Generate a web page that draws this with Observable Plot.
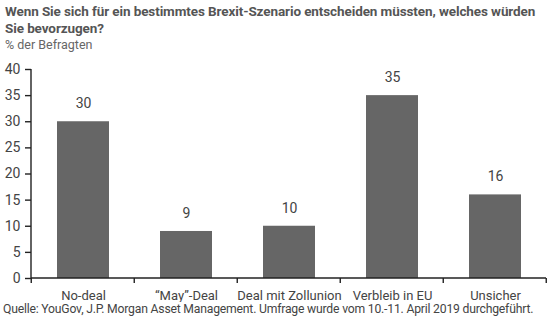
<!DOCTYPE html>
<html>
<head>
<meta charset="utf-8">
<script src="https://cdn.jsdelivr.net/npm/d3@7"></script>
<script src="https://cdn.jsdelivr.net/npm/@observablehq/plot@0.6"></script>
<style>
  html, body { margin: 0; padding: 0; background: #fff; }
  body { width: 560px; height: 321px; overflow: hidden; position: relative; font-family: Roboto, "Noto Sans", sans-serif; color: #4a4a4a; }
  #title { position: absolute; left: 5px; top: 3px; width: 552px; font-size: 13.5px; font-weight: bold; line-height: 17px; color: #555; letter-spacing: -0.1px; }
  #subtitle { position: absolute; left: 5px; top: 37px; font-size: 12.5px; color: #666; }
  #chart { position: absolute; left: 0; top: 52px; }
  #caption { position: absolute; left: 3px; top: 302px; font-size: 12.2px; color: #444; white-space: nowrap; letter-spacing: -0.2px; }
</style>
</head>
<body>
<div id="title">Wenn Sie sich für ein bestimmtes Brexit-Szenario entscheiden müssten, welches würden Sie bevorzugen?</div>
<div id="subtitle">% der Befragten</div>
<div id="chart"></div>
<div id="caption">Quelle: YouGov, J.P. Morgan Asset Management. Umfrage wurde vom 10.-11. April 2019 durchgeführt.</div>
<script>
const categories = ["No-deal", "\u201cMay\u201d-Deal", "Deal mit Zollunion", "Verbleib in EU", "Unsicher"];
const values = [30, 9, 10, 35, 16];
const yTicks = [0, 5, 10, 15, 20, 25, 30, 35, 40];

const data = categories.map((c, i) => ({category: c, value: values[i]}));

const axisLines = (index, scales, values_, dims, context) => {
  const ns = "http://www.w3.org/2000/svg";
  const g = document.createElementNS(ns, "g");
  g.setAttribute("stroke", "#222");
  g.setAttribute("stroke-width", "1.4");
  g.setAttribute("fill", "none");
  const line = (x1, y1, x2, y2) => {
    const l = document.createElementNS(ns, "line");
    l.setAttribute("x1", x1); l.setAttribute("y1", y1);
    l.setAttribute("x2", x2); l.setAttribute("y2", y2);
    g.appendChild(l);
  };
  const x = scales.x, y = scales.y;
  const y0 = y(0), yTop = y(40);
  const left = dims.marginLeft, right = dims.width - dims.marginRight;
  line(left, yTop, left, y0);
  line(left, y0, right, y0);
  const starts = categories.map(c => x(c));
  const step = starts[1] - starts[0];
  const edges = starts.map(s => s - 0.25 * step);
  edges.push(edges[edges.length - 1] + step);
  for (const e of edges) line(e, y0, e, y0 + 5);
  return g;
};

const plot = Plot.plot({
  width: 560,
  height: 250,
  marginLeft: 31,
  marginRight: 14,
  marginTop: 17,
  marginBottom: 24,
  style: {fontFamily: "Roboto, 'Noto Sans', sans-serif", fontSize: "13px", color: "#444", background: "#fff"},
  x: {domain: categories, paddingInner: 0.5, paddingOuter: 0.25, align: 0.5, label: null},
  y: {domain: [0, 40], label: null},
  marks: [
    Plot.barY(data, {x: "category", y: "value", fill: "#666666"}),
    Plot.text(data, {x: "category", y: "value", text: d => String(d.value), dy: -18, fontSize: 14, fill: "#444"}),
    Plot.axisY({ticks: yTicks, tickSize: 6, tickPadding: 5, fontSize: 14, stroke: "#222", strokeWidth: 1.4, label: null, fill: "#444"}),
    Plot.axisX({tickSize: 0, tickPadding: 12, fontSize: 13, label: null, fill: "#444"}),
    axisLines
  ]
});
document.getElementById("chart").appendChild(plot);
</script>
</body>
</html>
